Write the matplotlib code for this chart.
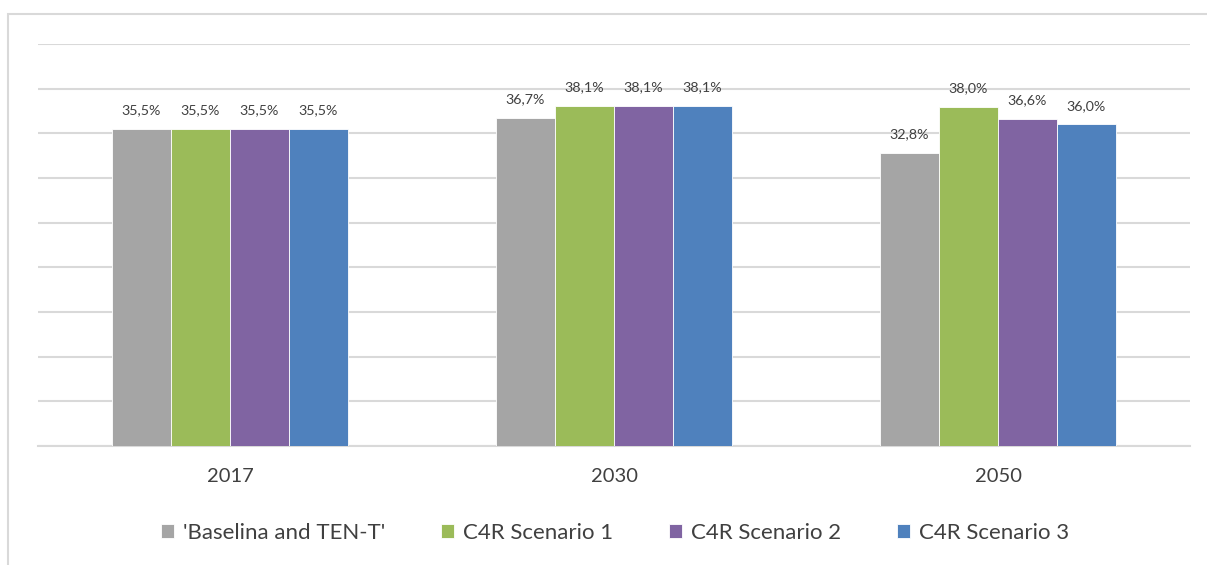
import matplotlib
matplotlib.use("Agg")
import matplotlib.pyplot as plt
from matplotlib.patches import Rectangle
import numpy as np

categories = ["2017", "2030", "2050"]
series_names = ["'Baselina and TEN-T'", "C4R Scenario 1", "C4R Scenario 2", "C4R Scenario 3"]
baseline = [35.5, 36.7, 32.8]
scen1 = [35.5, 38.1, 38.0]
scen2 = [35.5, 38.1, 36.6]
scen3 = [35.5, 38.1, 36.0]
colors = ["#A5A5A5", "#9BBB59", "#8064A2", "#4F81BD"]

plt.rcParams['font.family'] = ['Lato', 'DejaVu Sans']

W, H = 1207, 565
fig = plt.figure(figsize=(W/100, H/100), dpi=100)
fig.patches.append(Rectangle((8/W, -0.1), 1.2, 1 - 14/H + 0.1, transform=fig.transFigure,
                             fill=False, edgecolor="#D9D9D9", linewidth=1.5))
ax = fig.add_axes([38/W, 1-446/H, (1190-38)/W, (446-44)/H])

data = [baseline, scen1, scen2, scen3]
x = np.arange(len(categories))
bw = 59/384
for i, (vals, name, c) in enumerate(zip(data, series_names, colors)):
    pos = x + (i - 1.5) * bw
    ax.bar(pos, vals, width=bw, color=c, label=name, edgecolor="white", linewidth=0.6, zorder=3)
    for xp, v in zip(pos, vals):
        ax.annotate(f"{v:.1f}%".replace(".", ","), (xp, v), xytext=(0, 9), textcoords="offset points",
                    ha="center", va="bottom", fontsize=10.3, color="#404040")

ax.set_xlim(-0.5, 2.5)
ax.set_ylim(0, 45)
ax.set_yticks(np.arange(0, 46, 5))
ax.yaxis.grid(True, color="#D9D9D9", linewidth=1.5, zorder=0)
ax.set_yticklabels([])
ax.tick_params(axis='y', length=0)
ax.set_xticks(x)
ax.set_xticklabels(categories, fontsize=14.5, color="#404040")
ax.tick_params(axis='x', length=0, pad=16)
for s in ["top", "right", "left"]:
    ax.spines[s].set_visible(False)
ax.spines["bottom"].set_color("#D9D9D9")
ax.spines["bottom"].set_linewidth(1.5)

fig.legend(loc="center", bbox_to_anchor=(615/W, 1-533/H), ncol=4, frameon=False,
           fontsize=16, handlelength=0.6, handleheight=0.6, handletextpad=0.4,
           columnspacing=2.5, labelcolor="#404040")

fig.savefig("out.png", dpi=100)
